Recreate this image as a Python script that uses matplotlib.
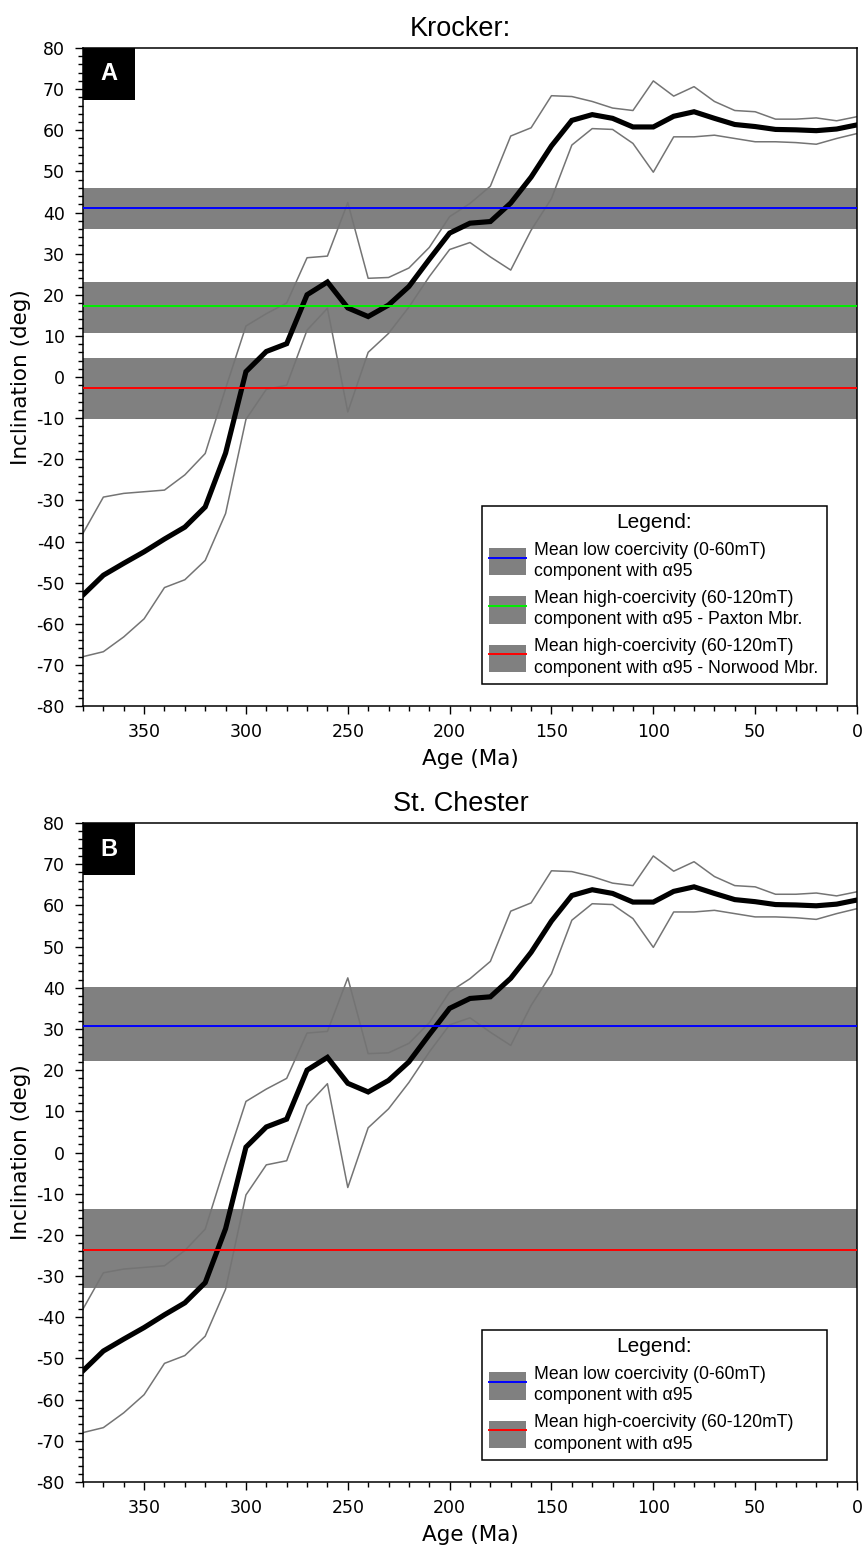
import matplotlib
matplotlib.use('Agg')
import matplotlib.pyplot as plt
from matplotlib.patches import Patch, Rectangle
from matplotlib.lines import Line2D
from matplotlib.legend_handler import HandlerTuple
from matplotlib.ticker import MultipleLocator

plt.rcParams['axes.unicode_minus'] = False

# ---------------- data ----------------
age = [380, 370, 360, 350, 340, 330, 320, 310, 300, 290, 280, 270, 260, 250,
       240, 230, 220, 210, 200, 190, 180, 170, 160, 150, 140, 130, 120, 110,
       100, 90, 80, 70, 60, 50, 40, 30, 20, 10, 0]

mean_inc = [-53.0, -48.2, -45.3, -42.5, -39.4, -36.5, -31.6, -18.5, 1.3, 6.2,
            8.1, 20.0, 23.1, 16.8, 14.7, 17.5, 22.0, 28.6, 35.0, 37.4, 37.8,
            42.3, 48.6, 56.2, 62.4, 63.8, 62.9, 60.8, 60.8, 63.4, 64.5, 62.9,
            61.4, 60.9, 60.2, 60.1, 59.9, 60.3, 61.3]

upper_inc = [-38.0, -29.2, -28.3, -27.9, -27.5, -23.8, -18.6, -2.8, 12.4, 15.4,
             18.0, 29.0, 29.4, 42.4, 24.0, 24.2, 26.5, 31.5, 39.0, 42.2, 46.4,
             58.6, 60.6, 68.4, 68.2, 67.0, 65.4, 64.8, 72.0, 68.3, 70.6, 67.0,
             64.8, 64.5, 62.7, 62.7, 63.0, 62.3, 63.3]

lower_inc = [-68.0, -66.8, -63.2, -58.8, -51.2, -49.3, -44.6, -33.2, -10.3, -3.0,
             -2.0, 11.4, 16.7, -8.5, 6.0, 10.6, 17.0, 24.4, 31.0, 32.7, 29.2,
             26.0, 35.7, 43.4, 56.4, 60.4, 60.2, 56.8, 49.8, 58.4, 58.4, 58.8,
             58.0, 57.2, 57.2, 57.0, 56.6, 58.0, 59.2]

# Panel A (Krocker) components
a_mean = [41.0, 17.2, -2.6]
a_low = [35.9, 10.6, -10.3]
a_high = [46.0, 23.1, 4.7]
a_colors = ['#0000ff', '#00ee00', '#ff0000']
a_labels = ['Mean low coercivity (0-60mT)\ncomponent with \u03b195',
            'Mean high-coercivity (60-120mT)\ncomponent with \u03b195 - Paxton Mbr.',
            'Mean high-coercivity (60-120mT)\ncomponent with \u03b195 - Norwood Mbr.']

# Panel B (St. Chester) components
b_mean = [30.8, -23.6]
b_low = [22.1, -32.8]
b_high = [40.3, -13.8]
b_colors = ['#0000ff', '#ff0000']
b_labels = ['Mean low coercivity (0-60mT)\ncomponent with \u03b195',
            'Mean high-coercivity (60-120mT)\ncomponent with \u03b195']

yticks = list(range(-80, 81, 10))
xticks = [350, 300, 250, 200, 150, 100, 50, 0]

# ---------------- figure ----------------
W, H = 866, 1549
fig = plt.figure(figsize=(W / 100, H / 100), dpi=100)

def px_axes(left, top, right, bottom):
    return fig.add_axes([left / W, 1 - bottom / H, (right - left) / W, (bottom - top) / H])

axA = px_axes(83, 48, 857, 706)
axB = px_axes(83, 823, 857, 1482)

BAND = '#808080'
GRAYLINE = '#747474'
ARIAL = 'Liberation Sans'


def draw_panel(ax, title, letter, means, lows, highs, colors, labels, title_x):
    for lo, hi in zip(lows, highs):
        ax.axhspan(lo, hi, color=BAND, lw=0, zorder=1)
    ax.plot(age, upper_inc, color=GRAYLINE, lw=1.1, zorder=2)
    ax.plot(age, lower_inc, color=GRAYLINE, lw=1.1, zorder=2)
    ax.plot(age, mean_inc, color='black', lw=3.7, zorder=3, solid_joinstyle='miter')
    for m, c in zip(means, colors):
        ax.axhline(m, color=c, lw=1.4, zorder=4)

    ax.set_xlim(380, 0)
    ax.set_ylim(-80, 80)
    ax.set_xticks(xticks)
    ax.set_yticks(yticks)
    ax.xaxis.set_minor_locator(MultipleLocator(10))
    ax.yaxis.set_minor_locator(MultipleLocator(2))
    ax.tick_params(which='major', direction='out', length=6, width=1.0,
                   labelsize=12.5, pad=6)
    ax.tick_params(axis='y', which='major', pad=7)
    ax.tick_params(which='minor', direction='out', length=3.5, width=1.0)
    for t in ax.get_xticklabels() + ax.get_yticklabels():
        t.set_family('DejaVu Sans')
    for s in ax.spines.values():
        s.set_linewidth(1.1)
        s.set_color('black')

    ax.set_xlabel('Age (Ma)', fontsize=15.5, family='DejaVu Sans', labelpad=6)
    ax.set_ylabel('Inclination (deg)', fontsize=15.5, family='DejaVu Sans', labelpad=4)
    ax.set_title(title, fontsize=19.5, family=ARIAL, x=title_x, pad=9)

    # letter box
    ax.add_patch(Rectangle((0, 1 - 0.079), 0.0672, 0.079, transform=ax.transAxes,
                           facecolor='black', edgecolor='none', zorder=6, clip_on=False))
    ax.text(0.0336, 1 - 0.0395, letter, transform=ax.transAxes, color='white',
            fontsize=17, fontweight='bold', family=ARIAL, ha='center', va='center',
            zorder=7)

    handles = []
    for c in colors:
        handles.append((Patch(facecolor=BAND, edgecolor='none'),
                        Line2D([], [], color=c, lw=1.4)))
    leg = ax.legend(handles, labels, handler_map={tuple: HandlerTuple(ndivide=1, pad=0)},
                    loc='lower left', bbox_to_anchor=(0.515, 0.034, 0.446, 0.0),
                    mode='expand',
                    borderaxespad=0, prop={'family': ARIAL, 'size': 12.7},
                    title='Legend:', title_fontproperties={'family': ARIAL, 'size': 15},
                    handlelength=2.1, handleheight=2.0, handletextpad=0.45,
                    labelspacing=0.55, borderpad=0.4, fancybox=False,
                    framealpha=1, edgecolor='black')
    leg.get_frame().set_linewidth(1.1)
    leg.set_zorder(8)
    for t in leg.get_texts():
        t.set_linespacing(1.35)


draw_panel(axA, 'Krocker:', 'A', a_mean, a_low, a_high, a_colors, a_labels, 0.488)
draw_panel(axB, 'St. Chester', 'B', b_mean, b_low, b_high, b_colors, b_labels, 0.488)

fig.savefig('out.png', dpi=100)
